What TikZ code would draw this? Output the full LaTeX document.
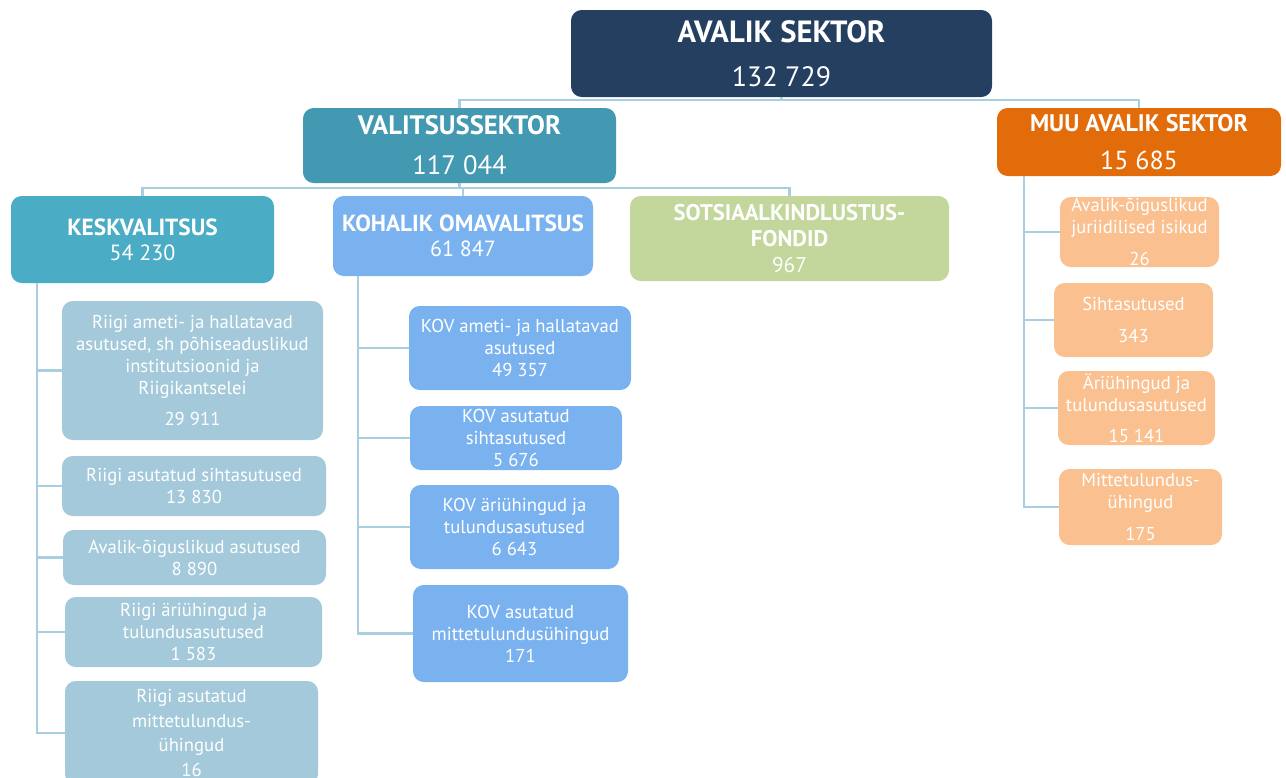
\documentclass[tikz,border=0pt]{standalone}
\usepackage{fontspec}
\setmainfont{PT Sans}
\definecolor{navy}{HTML}{243F60}
\definecolor{valc}{HTML}{4399B1}
\definecolor{muuc}{HTML}{E36C0A}
\definecolor{kesc}{HTML}{4BACC6}
\definecolor{kovc}{HTML}{7AB2F0}
\definecolor{sotc}{HTML}{C3D69B}
\definecolor{kchc}{HTML}{A3C9DA}
\definecolor{mchc}{HTML}{FAC08F}
\definecolor{linec}{HTML}{A8CFE0}
\tikzset{
  rect/.style n args={4}{minimum width={(#3-#1)*0.75pt}, minimum height={(#4-#2)*0.75pt}, at={({(#1+#3)/2},{(#2+#4)/2})}},
  boxbase/.style={rectangle, rounded corners=8pt, inner sep=0pt, text=white, align=center},
  small/.style={boxbase, font={\fontsize{14}{16.5}\selectfont}},
  lsk/.style={font={\fontsize{16}{#1}\selectfont}},
  conn/.style={draw=linec, line width=1.6pt},
}
\newcommand{\hd}[2]{{\fontsize{#1}{#1}\selectfont\bfseries #2}}
\newcommand{\nm}[2]{{\fontsize{#1}{#1}\selectfont #2}}
\begin{document}
\begin{tikzpicture}[x=0.75pt,y=-0.75pt]
\useasboundingbox (0,0) rectangle (1286,778);
\clip (0,0) rectangle (1286,778);
% level 0 / 1
\node[boxbase, lsk=33pt, fill=navy, rect={571}{10}{992}{97}] (avalik) {\hd{23}{AVALIK SEKTOR}\\\nm{21}{132 729}};
\node[boxbase, lsk=30pt, fill=valc, rect={303}{108}{616}{183}] (valits) {\hd{20}{VALITSUSSEKTOR}\\\nm{20}{117 044}};
\node[boxbase, lsk=28.5pt, fill=muuc, rect={997}{108}{1281}{176}] (muu) {\hd{18}{MUU AVALIK SEKTOR}\\\nm{19.5}{15 685}};
% level 2
\node[boxbase, lsk=18.75pt, fill=kesc, rect={11}{196}{274}{283}] (kesk) {\hd{17.5}{KESKVALITSUS}\\\nm{16.5}{54 230}};
\node[boxbase, lsk=18.75pt, fill=kovc, rect={333}{196}{593}{276}] (kov) {\hd{17.5}{KOHALIK OMAVALITSUS}\\\nm{16.5}{61 847}};
\node[boxbase, lsk=19.5pt, fill=sotc, rect={630}{196}{949}{281}] (sots) {\hd{17}{SOTSIAALKINDLUSTUS-}\\\hd{17}{FONDID}\\\nm{16}{967}};
% keskvalitsus children
\node[small, fill=kchc, rect={62}{301}{323}{440}] (k1) {Riigi ameti- ja hallatavad\\asutused, sh põhiseaduslikud\\institutsioonid ja\\Riigikantselei\\[7pt]29 911};
\node[small, fill=kchc, rect={62}{456}{326}{516}] (k2) {Riigi asutatud sihtasutused\\13 830};
\node[small, fill=kchc, rect={63}{530}{326}{585}] (k3) {Avalik-õiguslikud asutused\\8 890};
\node[small, fill=kchc, rect={65}{597}{322}{667}] (k4) {Riigi äriühingud ja\\tulundusasutused\\1 583};
\node[small, fill=kchc, rect={65}{681}{318}{785}, font={\fontsize{14}{18.5}\selectfont}] (k5) {Riigi asutatud\\mittetulundus-\\ühingud\\16};
% KOV children
\node[small, fill=kovc, rect={409}{306}{631}{390}] (v1) {KOV ameti- ja hallatavad\\asutused\\49 357};
\node[small, fill=kovc, rect={410}{406}{622}{470}] (v2) {KOV asutatud\\sihtasutused\\5 676};
\node[small, fill=kovc, rect={410}{485}{619}{569}] (v3) {KOV äriühingud ja\\tulundusasutused\\6 643};
\node[small, fill=kovc, rect={413}{585}{628}{682}] (v4) {KOV asutatud\\mittetulundusühingud\\171};
% muu children
\node[small, fill=mchc, rect={1060}{197}{1219}{267}] (m1) {Avalik-õiguslikud\\juriidilised isikud\\[7pt]26};
\node[small, fill=mchc, rect={1054}{283}{1213}{357}] (m2) {Sihtasutused\\[7pt]343};
\node[small, fill=mchc, rect={1058}{371}{1215}{445}] (m3) {Äriühingud ja\\tulundusasutused\\[7pt]15 141};
\node[small, fill=mchc, rect={1059}{469}{1222}{545}] (m4) {Mittetulundus-\\ühingud\\[7pt]175};
% buses
\coordinate (bus1) at (0,100);
\coordinate (bus2) at (0,188);
\coordinate (kt) at (37,283);
\coordinate (vt) at (358,276);
\coordinate (mt) at (1024,176);
\draw[conn] (avalik.south) -- (avalik.south |- bus1);
\draw[conn] (valits.north) -- (valits.north |- bus1) -- (muu.north |- bus1) -- (muu.north);
\draw[conn] (valits.south) -- (valits.south |- bus2);
\draw[conn] (kesk.north) -- (kesk.north |- bus2) -- (sots.north |- bus2) -- (sots.north);
\draw[conn] (kov.north) -- (kov.north |- bus2);
% trunks
\draw[conn] (kt) |- (k5.west);
\foreach \c in {k1,k2,k3,k4} \draw[conn] (kt |- \c.west) -- (\c.west);
\draw[conn] (vt) |- (v4.west);
\foreach \c in {v1,v2,v3} \draw[conn] (vt |- \c.west) -- (\c.west);
\draw[conn] (mt) |- (m4.west);
\foreach \c in {m1,m2,m3} \draw[conn] (mt |- \c.west) -- (\c.west);
\end{tikzpicture}
\end{document}
